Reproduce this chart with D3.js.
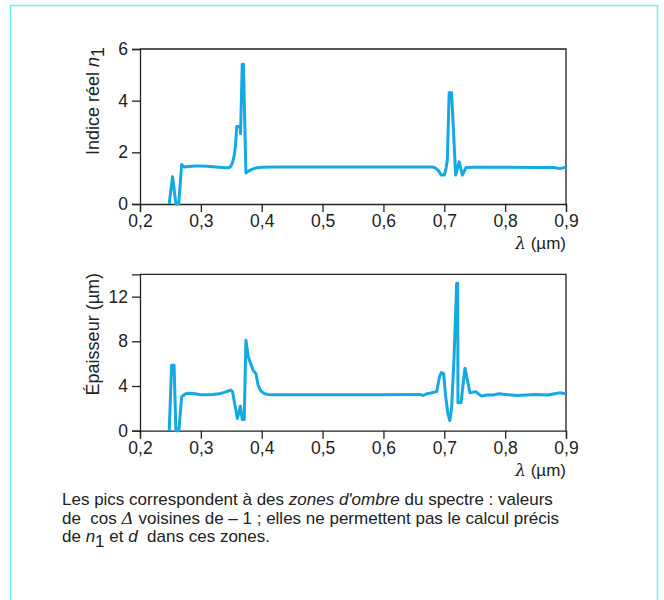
<!DOCTYPE html>
<html>
<head>
<meta charset="utf-8">
<script src="https://cdn.jsdelivr.net/npm/d3@7"></script>
<style>
body { margin: 0; background: #fff; }
svg text { font-family: "Liberation Sans", Arial, sans-serif; fill: #222; }
</style>
</head>
<body>
<svg id="chart" width="664" height="600"></svg>
<script>
// wavelength (µm) and real index n1, top panel
var lambdaN = [0.248, 0.2535, 0.259, 0.2636, 0.2685, 0.273, 0.28, 0.29, 0.30, 0.31, 0.32, 0.33, 0.34, 0.345,
	0.349, 0.352, 0.355, 0.357, 0.359, 0.3645, 0.3652, 0.368, 0.370, 0.374, 0.378, 0.385, 0.39, 0.40, 0.42,
	0.5, 0.6, 0.67, 0.68, 0.685, 0.69, 0.695, 0.70, 0.703, 0.705, 0.708, 0.712, 0.7187, 0.7246, 0.7297,
	0.7356, 0.75, 0.8, 0.85, 0.88, 0.89, 0.9];
var indexN = [0, 1.06, 0, 0, 1.53, 1.43, 1.45, 1.47, 1.47, 1.46, 1.44, 1.42, 1.40, 1.40,
	1.45, 1.6, 1.9, 2.3, 3.0, 3.0, 2.72, 5.41, 5.41, 1.2, 1.27, 1.35, 1.39, 1.42, 1.43,
	1.43, 1.43, 1.43, 1.43, 1.4, 1.3, 1.12, 1.12, 1.4, 1.7, 4.31, 4.31, 1.12, 1.63, 1.12,
	1.41, 1.42, 1.42, 1.41, 1.41, 1.37, 1.42];

// wavelength (µm) and thickness d (µm), bottom panel
var lambdaD = [0.248, 0.252, 0.256, 0.259, 0.2638, 0.2685, 0.275, 0.28, 0.29, 0.30, 0.31, 0.32, 0.33, 0.34,
	0.349, 0.352, 0.36, 0.365, 0.368, 0.3713, 0.374, 0.378, 0.382, 0.386, 0.3906, 0.394, 0.397, 0.40,
	0.405, 0.41, 0.42, 0.5, 0.6, 0.66, 0.665, 0.671, 0.6765, 0.6875, 0.692, 0.695, 0.699, 0.702, 0.706,
	0.709, 0.712, 0.716, 0.7203, 0.722, 0.7225, 0.7275, 0.734, 0.7422, 0.7516, 0.761, 0.77, 0.78, 0.79,
	0.80, 0.82, 0.85, 0.87, 0.89, 0.9];
var thickD = [0, 5.86, 5.86, 0, 0, 3.04, 3.3, 3.35, 3.3, 3.22, 3.22, 3.25, 3.3, 3.45,
	3.64, 3.5, 1.1, 2.2, 1.0, 1.0, 8.1, 6.6, 6.0, 5.4, 5.1, 4.1, 3.7, 3.5,
	3.3, 3.25, 3.22, 3.22, 3.22, 3.25, 3.15, 3.3, 3.35, 3.5, 4.8, 5.2, 5.1, 3.2, 1.5,
	0.9, 2.0, 6.5, 13.2, 13.2, 2.5, 2.5, 5.6, 3.4, 3.5, 3.1, 3.2, 3.2, 3.3,
	3.25, 3.15, 3.25, 3.2, 3.4, 3.3];

// tick labels
var xTicks = [0.2, 0.3, 0.4, 0.5, 0.6, 0.7, 0.8, 0.9];
var yTicksN = [0, 2, 4, 6];
var yTicksD = [0, 4, 8, 12];

var lineColor = '#14a9e3';
var axisColor = '#222';
var tickFont = 17.5;
var labelFont = 18;
var fmt = function(v) { return d3.format('.1f')(v).replace('.', ','); };

var svg = d3.select('svg#chart');

// outer cyan frame
svg.append('path').attr('d', 'M10.5,600 V5.5 H657.5 V600')
	.attr('fill', 'none').attr('stroke', '#66f5f5').attr('stroke-width', 1.5);

var x = d3.scaleLinear().domain([0.2, 0.9]).range([140, 566]);

// draw one panel
function drawPanel(opts) {
	var y = d3.scaleLinear().domain(opts.domain).range([opts.bottom, opts.top]);
	var g = svg.append('g');

	// box top + right
	g.append('path').attr('d', 'M140,' + opts.top + ' H566 V' + opts.bottom)
		.attr('fill', 'none').attr('stroke', axisColor).attr('stroke-width', 1.3);

	// x axis
	var xAxis = g.append('g').attr('transform', 'translate(0,' + opts.bottom + ')');
	xAxis.call(d3.axisBottom(x).tickValues(d3.range(0.2, 0.9001, 0.02)).tickSize(4).tickFormat(''));
	xAxis.call(d3.axisBottom(x).tickValues(xTicks).tickSize(8).tickFormat(fmt).tickPadding(3));
	xAxis.selectAll('.domain').attr('stroke', axisColor).attr('stroke-width', 1.3);
	xAxis.selectAll('line').attr('stroke', axisColor).attr('stroke-width', 1.3);
	xAxis.selectAll('text').attr('font-size', tickFont).attr('fill', axisColor)
		.style('font-family', '"Liberation Sans", Arial, sans-serif');

	// y axis
	var yAxis = g.append('g').attr('transform', 'translate(140,0)');
	yAxis.call(d3.axisLeft(y).tickValues(d3.range(opts.domain[0], opts.domain[1] + 0.01, opts.minor))
		.tickSize(4).tickFormat(''));
	yAxis.call(d3.axisLeft(y).tickValues(opts.ticks).tickSize(8).tickFormat(d3.format('d')).tickPadding(4));
	yAxis.selectAll('.domain').attr('stroke', axisColor).attr('stroke-width', 1.3);
	yAxis.selectAll('line').attr('stroke', axisColor).attr('stroke-width', 1.3);
	yAxis.selectAll('text').attr('font-size', tickFont).attr('fill', axisColor)
		.style('font-family', '"Liberation Sans", Arial, sans-serif');

	// data line
	var line = d3.line().x(function(d) { return x(d[0]); }).y(function(d) { return y(d[1]); });
	g.append('path').datum(d3.zip(opts.xs, opts.ys)).attr('d', line)
		.attr('fill', 'none').attr('stroke', lineColor).attr('stroke-width', 3)
		.attr('stroke-linejoin', 'round');

	// lambda label
	var lam = g.append('text').attr('x', 566).attr('y', opts.bottom + 45)
		.attr('text-anchor', 'end').attr('font-size', 17);
	lam.append('tspan').attr('font-style', 'italic').style('font-family', '"DejaVu Serif", serif').text('λ');
	lam.append('tspan').text(' (µm)');

	// y label
	var yl = g.append('text').attr('transform', 'translate(99,' + opts.labelEnd + ') rotate(-90)')
		.attr('text-anchor', 'end').attr('font-size', labelFont);
	opts.label(yl);
	return y;
}

drawPanel({
	top: 49, bottom: 204, domain: [0, 6], minor: 1, ticks: yTicksN,
	xs: lambdaN, ys: indexN, labelEnd: 47,
	label: function(t) {
		t.append('tspan').text('Indice réel ');
		t.append('tspan').attr('font-style', 'italic').text('n');
		t.append('tspan').attr('dy', 5).text('1');
	}
});

drawPanel({
	top: 274.3, bottom: 430.7, domain: [0, 14], minor: 2, ticks: yTicksD,
	xs: lambdaD, ys: thickD, labelEnd: 273,
	label: function(t) {
		t.text('Épaisseur (µm)');
	}
});

// caption
var cap = svg.append('g').attr('font-size', 17);
var l1 = cap.append('text').attr('x', 62).attr('y', 505);
l1.append('tspan').text('Les pics correspondent à des ');
l1.append('tspan').attr('font-style', 'italic').text("zones d'ombre");
l1.append('tspan').text(' du spectre : valeurs');

var l2 = cap.append('text').attr('x', 62).attr('y', 523.5).attr('xml:space', 'preserve');
l2.append('tspan').text('de  cos ');
l2.append('tspan').attr('font-style', 'italic').style('font-family', '"DejaVu Serif", serif').text('Δ');
l2.append('tspan').text(' voisines de – 1 ; elles ne permettent pas le calcul précis');

var l3 = cap.append('text').attr('x', 62).attr('y', 542).attr('xml:space', 'preserve');
l3.append('tspan').text('de ');
l3.append('tspan').attr('font-style', 'italic').text('n');
l3.append('tspan').attr('dy', 5).text('1');
l3.append('tspan').attr('dy', -5).text(' et ');
l3.append('tspan').attr('font-style', 'italic').text('d');
l3.append('tspan').text('  dans ces zones.');
</script>
</body>
</html>
